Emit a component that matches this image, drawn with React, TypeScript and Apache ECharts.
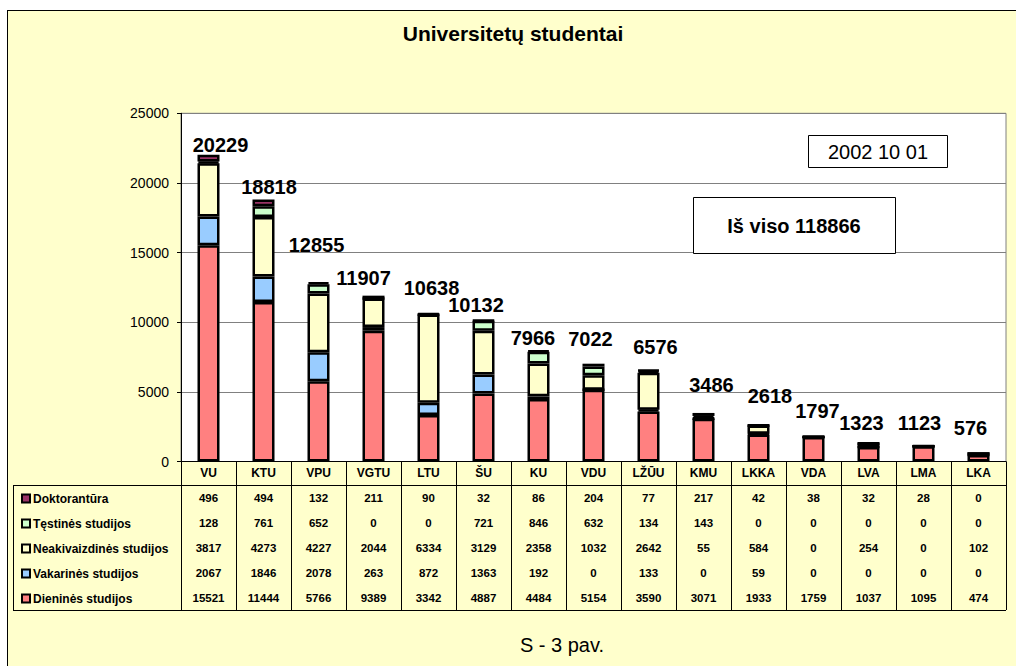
import React, { useEffect, useRef } from 'react';
import * as echarts from 'echarts';

const categories = ['VU', 'KTU', 'VPU', 'VGTU', 'LTU', 'ŠU', 'KU', 'VDU', 'LŽŪU', 'KMU', 'LKKA', 'VDA', 'LVA', 'LMA', 'LKA'];
const doktorantura = [496, 494, 132, 211, 90, 32, 86, 204, 77, 217, 42, 38, 32, 28, 0];
const testines = [128, 761, 652, 0, 0, 721, 846, 632, 134, 143, 0, 0, 0, 0, 0];
const neakivaizdines = [3817, 4273, 4227, 2044, 6334, 3129, 2358, 1032, 2642, 55, 584, 0, 254, 0, 102];
const vakarines = [2067, 1846, 2078, 263, 872, 1363, 192, 0, 133, 0, 59, 0, 0, 0, 0];
const dienines = [15521, 11444, 5766, 9389, 3342, 4887, 4484, 5154, 3590, 3071, 1933, 1759, 1037, 1095, 474];
const totalLabels = [20229, 18818, 12855, 11907, 10638, 10132, 7966, 7022, 6576, 3486, 2618, 1797, 1323, 1123, 576];
const yMin = 0;
const yMax = 25000;
const yInterval = 5000;

const titleText = 'Universitetų studentai';
const dateText = '2002 10 01';
const totalText = 'Iš viso 118866';
const captionText = 'S - 3 pav.';

// label placement offsets (styling, px) relative to the top of each stack
const labelOffsets: [number, number][] = [
  [12, -10], [5.5, -12], [-2, -37], [-10, -17.5], [3, -25.5], [-7.5, -15.5], [-5.5, -12.5],
  [-3, -24.5], [7, -23], [8, -28], [11.5, -29], [4, -25], [-7, -20], [-4, -22.5], [-8, -25],
];

const FONT = '"Liberation Sans", Arial, Helvetica, sans-serif';

const seriesDefs = [
  { name: 'Dieninės studijos', data: dienines, color: '#FF8080' },
  { name: 'Vakarinės studijos', data: vakarines, color: '#99CCFF' },
  { name: 'Neakivaizdinės studijos', data: neakivaizdines, color: '#FFFFCC' },
  { name: 'Tęstinės studijos', data: testines, color: '#CCFFCC' },
  { name: 'Doktorantūra', data: doktorantura, color: '#993366' },
];

// table rows, top to bottom
const tableRows = [
  { name: 'Doktorantūra', data: doktorantura },
  { name: 'Tęstinės studijos', data: testines },
  { name: 'Neakivaizdinės studijos', data: neakivaizdines },
  { name: 'Vakarinės studijos', data: vakarines },
  { name: 'Dieninės studijos', data: dienines },
];

export default function App() {
  const ref = useRef<HTMLDivElement>(null);

  useEffect(() => {
    const chart = echarts.init(ref.current!, null, { renderer: 'svg' });

    const stackTops = categories.map((_, i) =>
      seriesDefs.reduce((s, d) => s + d.data[i], 0)
    );

    const tableAxes = tableRows.map((row, k) => ({
      type: 'category',
      gridIndex: 0,
      position: 'bottom',
      data: categories,
      axisLine: { show: false },
      axisTick: { show: false },
      axisLabel: {
        interval: 0,
        margin: 36 + 25 * k,
        verticalAlign: 'middle',
        fontFamily: FONT,
        fontWeight: 'bold',
        fontSize: 11.5,
        color: '#000',
        formatter: (_v: string, idx: number) => String(row.data[idx]),
      },
    }));

    const option: any = {
      animation: false,
      backgroundColor: '#FFFFCC',
      textStyle: { fontFamily: FONT },
      grid: {
        left: 173,
        right: 10,
        top: 102.3,
        bottom: 204.5,
        show: true,
        backgroundColor: '#FFFFFF',
        borderColor: '#808080',
        borderWidth: 1,
      },
      legend: {
        orient: 'vertical',
        left: 8,
        top: 475.5,
        itemWidth: 8,
        itemHeight: 8,
        itemGap: 11,
        icon: 'rect',
        selectedMode: false,
        data: tableRows.map((r) => r.name),
        itemStyle: { borderColor: '#000', borderWidth: 2 },
        textStyle: {
          fontFamily: FONT,
          fontWeight: 'bold',
          fontSize: 12,
          color: '#000',
          lineHeight: 14,
          padding: [0, 0, 0, -2],
        },
      },
      xAxis: [
        {
          type: 'category',
          gridIndex: 0,
          position: 'bottom',
          data: categories,
          axisLine: { show: true, lineStyle: { color: '#000', width: 1 } },
          axisTick: {
            show: true,
            alignWithLabel: false,
            length: 148.5,
            lineStyle: { color: '#000', width: 1 },
          },
          axisLabel: {
            interval: 0,
            margin: 11,
            verticalAlign: 'middle',
            fontFamily: FONT,
            fontWeight: 'bold',
            fontSize: 12,
            color: '#000',
          },
        },
        ...tableAxes,
      ],
      yAxis: {
        type: 'value',
        min: yMin,
        max: yMax,
        interval: yInterval,
        axisLine: { show: true, lineStyle: { color: '#000', width: 1 } },
        axisTick: { show: true, length: 4, lineStyle: { color: '#000' } },
        axisLabel: {
          fontFamily: FONT,
          fontSize: 14,
          color: '#000',
          margin: 12,
          formatter: (v: number) => String(v),
        },
        splitLine: { show: true, lineStyle: { color: '#808080', width: 1 } },
      },
      series: [
        ...seriesDefs.map((d) => ({
          type: 'bar',
          name: d.name,
          stack: 'total',
          xAxisIndex: 0,
          barWidth: 22,
          data: d.data,
          itemStyle: { color: d.color, borderColor: '#000', borderWidth: 2.5 },
        })),
        {
          type: 'scatter',
          name: 'Viso',
          xAxisIndex: 0,
          symbolSize: 1,
          itemStyle: { color: 'rgba(0,0,0,0)', opacity: 1 },
          z: 10,
          label: {
            show: true,
            position: 'inside',
            color: '#000',
            fontFamily: FONT,
            fontWeight: 'bold',
            fontSize: 20,
            textBorderWidth: 0,
          },
          data: stackTops.map((v, i) => ({
            value: v,
            label: {
              show: true,
              position: 'inside',
              offset: labelOffsets[i],
              formatter: String(totalLabels[i]),
              color: '#000',
              textBorderWidth: 0,
            },
          })),
        },
      ],
      graphic: [
        {
          type: 'text',
          style: {
            text: titleText,
            x: 505,
            y: 22,
            textAlign: 'center',
            textVerticalAlign: 'middle',
            fill: '#000',
            font: `bold 21px ${FONT}`,
          },
        },
        {
          type: 'rect',
          shape: { x: 800.5, y: 124.5, width: 139, height: 32 },
          style: { fill: '#FFFFFF', stroke: '#000', lineWidth: 1 },
          z: 20,
        },
        {
          type: 'text',
          z: 21,
          style: {
            text: dateText,
            x: 870,
            y: 140.5,
            textAlign: 'center',
            textVerticalAlign: 'middle',
            fill: '#000',
            font: `20px ${FONT}`,
          },
        },
        {
          type: 'rect',
          shape: { x: 685.5, y: 186.5, width: 202, height: 56 },
          style: { fill: '#FFFFFF', stroke: '#000', lineWidth: 1 },
          z: 20,
        },
        {
          type: 'text',
          z: 21,
          style: {
            text: totalText,
            x: 786,
            y: 214.5,
            textAlign: 'center',
            textVerticalAlign: 'middle',
            fill: '#000',
            font: `bold 20px ${FONT}`,
          },
        },
        {
          type: 'line',
          shape: { x1: 5, y1: 474.5, x2: 998, y2: 474.5 },
          style: { stroke: '#000', lineWidth: 1 },
        },
        {
          type: 'line',
          shape: { x1: 5, y1: 599.5, x2: 998, y2: 599.5 },
          style: { stroke: '#000', lineWidth: 1 },
        },
        {
          type: 'line',
          shape: { x1: 5.5, y1: 474.5, x2: 5.5, y2: 599.5 },
          style: { stroke: '#000', lineWidth: 1 },
        },
        {
          type: 'text',
          style: {
            text: captionText,
            x: 554,
            y: 634,
            textAlign: 'center',
            textVerticalAlign: 'middle',
            fill: '#000',
            font: `20px ${FONT}`,
          },
        },
      ],
    };

    chart.setOption(option);
    return () => chart.dispose();
  }, []);

  return (
    <div
      style={{
        position: 'absolute',
        left: 7,
        top: 10,
        width: 1009,
        height: 656,
        boxSizing: 'border-box',
        background: '#FFFFCC',
        borderLeft: '1px solid #000',
        borderTop: '1px solid #000',
      }}
    >
      <div ref={ref} style={{ width: 1008, height: 655 }} />
    </div>
  );
}
